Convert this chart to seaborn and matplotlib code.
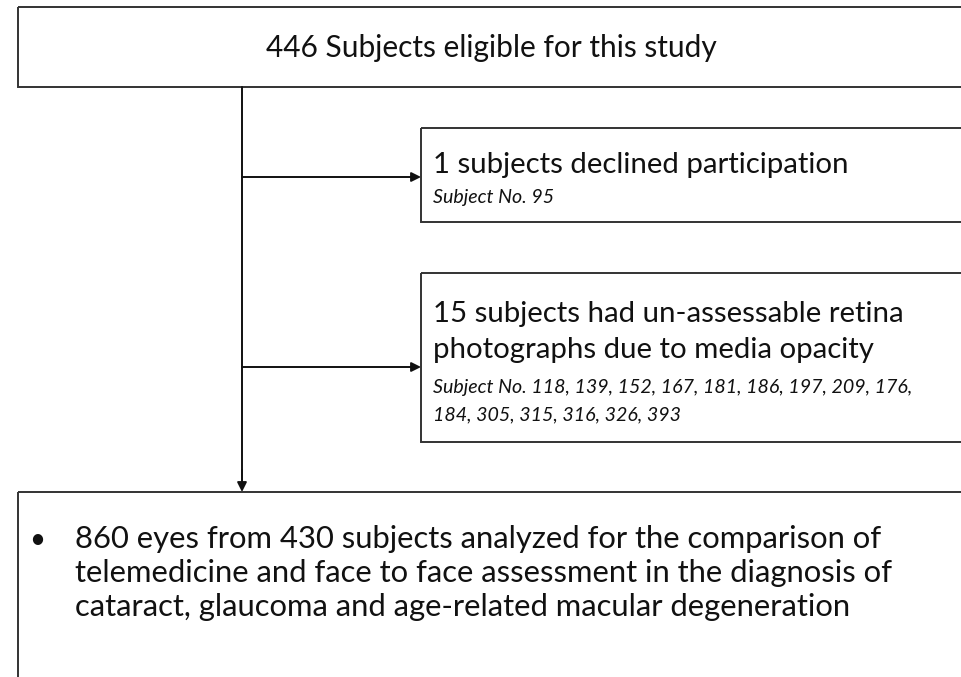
import matplotlib
matplotlib.use("Agg")
import matplotlib.pyplot as plt
from matplotlib.patches import Rectangle
import seaborn as sns

# flowchart content
eligible_text = "446 Subjects eligible for this study"
declined_title = ["1 subjects declined participation"]
declined_ids = [95]
opacity_title = ["15 subjects had un-assessable retina",
                 "photographs due to media opacity"]
opacity_ids = [118, 139, 152, 167, 181, 186, 197, 209, 176,
               184, 305, 315, 316, 326, 393]
analyzed_lines = ["860 eyes from 430 subjects analyzed for the comparison of",
                  "telemedicine and face to face assessment in the diagnosis of",
                  "cataract, glaucoma and age-related macular degeneration"]


def id_lines(ids, first_count):
    first = "Subject No. " + ", ".join(str(i) for i in ids[:first_count])
    rest = ids[first_count:]
    if not rest:
        return [first]
    return [first + ",", ", ".join(str(i) for i in rest)]


sns.set_theme(style="white")
plt.rcParams['font.family'] = ['Lato', 'DejaVu Sans']

fig = plt.figure(figsize=(9.61, 6.77), dpi=100)
ax = fig.add_axes([0, 0, 1, 1])
ax.set_xlim(0, 961)
ax.set_ylim(677, 0)
ax.axis('off')

box_kw = dict(fill=False, edgecolor='#333333', linewidth=1.4, clip_on=True)
# (left, top, right, bottom) in pixel-like units
boxes = {
    'eligible': (18, 7, 990, 87),
    'declined': (421, 128, 990, 222),
    'opacity': (421, 273, 990, 442),
    'analyzed': (18, 492, 990, 720),
}
for l, t, r, b in boxes.values():
    ax.add_patch(Rectangle((l, t), r - l, b - t, **box_kw))

trunk_x = 242
arrow_kw = dict(arrowstyle='-|>', mutation_scale=14, lw=1.4, color='#111111',
                shrinkA=0, shrinkB=0)
ax.plot([trunk_x, trunk_x], [boxes['eligible'][3], 480], color='#111111', lw=1.4)
ax.annotate('', xy=(trunk_x, boxes['analyzed'][1]), xytext=(trunk_x, 470),
            arrowprops=arrow_kw)
for key, y in [('declined', 177), ('opacity', 367)]:
    ax.annotate('', xy=(boxes[key][0], y), xytext=(trunk_x, y), arrowprops=arrow_kw)

txt = '#111111'
ax.text(491, 57, eligible_text, ha='center', va='baseline', fontsize=21.5, color=txt)

ax.text(433, 173, declined_title[0], ha='left', va='baseline', fontsize=21.2, color=txt)
for k, line in enumerate(id_lines(declined_ids, 9)):
    ax.text(433, 203 + 27 * k, line, ha='left', va='baseline', fontsize=14.1,
            style='italic', color=txt)

for k, line in enumerate(opacity_title):
    ax.text(433, 322 + 36 * k, line, ha='left', va='baseline', fontsize=21.2, color=txt)
for k, line in enumerate(id_lines(opacity_ids, 9)):
    ax.text(433, 393 + 27 * k, line, ha='left', va='baseline', fontsize=14.1,
            style='italic', color=txt)

ax.text(37, 548, "\u2022", ha='center', va='baseline', fontsize=20, color=txt)
for k, line in enumerate(analyzed_lines):
    ax.text(75, 548 + 34 * k, line, ha='left', va='baseline', fontsize=22.3, color=txt)

fig.savefig('out.png', dpi=100)
